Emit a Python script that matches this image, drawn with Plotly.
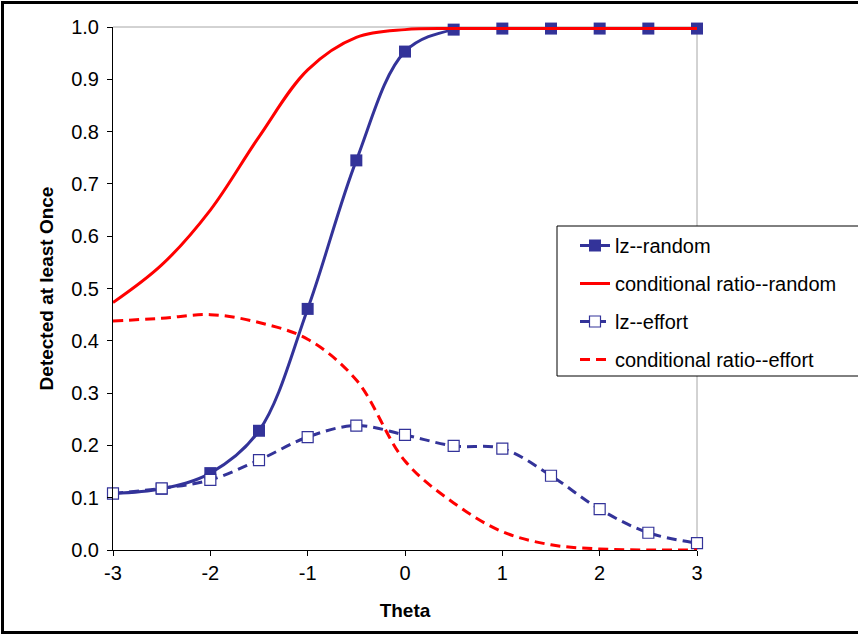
import plotly.graph_objects as go

theta = [-3, -2.5, -2, -1.5, -1, -0.5, 0, 0.5, 1, 1.5, 2, 2.5, 3]
lz_random = [0.108, 0.117, 0.147, 0.228, 0.461, 0.745, 0.953, 0.995, 0.997, 0.997, 0.997, 0.997, 0.997]
cr_random = [0.473, 0.545, 0.650, 0.790, 0.918, 0.980, 0.995, 0.997, 0.997, 0.997, 0.997, 0.997, 0.997]
lz_effort = [0.108, 0.118, 0.134, 0.172, 0.216, 0.238, 0.220, 0.199, 0.194, 0.142, 0.078, 0.033, 0.013]
cr_effort = [0.438, 0.443, 0.450, 0.435, 0.403, 0.325, 0.170, 0.090, 0.035, 0.010, 0.002, 0.000, 0.000]

y_ticks = [0.0, 0.1, 0.2, 0.3, 0.4, 0.5, 0.6, 0.7, 0.8, 0.9, 1.0]
x_ticks = [-3, -2, -1, 0, 1, 2, 3]

BLUE = "#333399"
RED = "#FF0000"
FONT = "Arial, Liberation Sans, sans-serif"
SM = 1.0

fig = go.Figure()
fig.add_trace(go.Scatter(
    x=theta, y=lz_random, name="lz--random", mode="lines+markers", cliponaxis=False,
    line=dict(color=BLUE, width=3, shape="spline", smoothing=SM),
    marker=dict(symbol="square", size=12, color=BLUE),
    legendgroup="a"))
fig.add_trace(go.Scatter(
    x=theta, y=cr_random, name="conditional ratio--random", mode="lines", cliponaxis=False,
    line=dict(color=RED, width=3, shape="spline", smoothing=SM),
    legendgroup="b"))
fig.add_trace(go.Scatter(
    x=theta, y=lz_effort, name="lz--effort", mode="lines+markers", cliponaxis=False,
    line=dict(color=BLUE, width=3, shape="spline", smoothing=SM, dash="10px,6px"),
    marker=dict(symbol="square", size=11, color="white", line=dict(color=BLUE, width=1.2)),
    legendgroup="c"))
fig.add_trace(go.Scatter(
    x=theta, y=cr_effort, name="conditional ratio--effort", mode="lines", cliponaxis=False,
    line=dict(color=RED, width=3, shape="spline", smoothing=SM, dash="10px,6px"),
    legendgroup="d"))

L, R, T, B = 113, 161, 27, 84
W, H = 858, 634
pw, ph = W - L - R, H - T - B

def px(x):
    return (x - L) / pw

def py(y):
    return (H - B - y) / ph

shapes = [
    dict(type="line", xref="paper", yref="paper", x0=0, x1=1, y0=1, y1=1,
         line=dict(color="#A6A6A6", width=1), layer="below"),
    dict(type="line", xref="paper", yref="paper", x0=1, x1=1, y0=0, y1=1,
         line=dict(color="#A6A6A6", width=1), layer="below"),
    dict(type="rect", xref="paper", yref="paper", x0=px(557), x1=px(920),
         y0=py(376), y1=py(226), line=dict(color="black", width=1), fillcolor="white"),
    dict(type="rect", xref="paper", yref="paper", x0=px(2.5), x1=px(920),
         y0=py(632.5), y1=py(2.5), line=dict(color="black", width=3), fillcolor="rgba(0,0,0,0)"),
]

fig.update_layout(
    width=W, height=H,
    margin=dict(l=L, r=R, t=T, b=B),
    paper_bgcolor="white", plot_bgcolor="white",
    font=dict(family=FONT, size=20, color="black"),
    showlegend=True,
    legend=dict(x=px(575), y=py(226), xanchor="left", yanchor="top",
                bgcolor="rgba(0,0,0,0)", borderwidth=0,
                traceorder="grouped", tracegroupgap=9,
                font=dict(family=FONT, size=20, color="black")),
    xaxis=dict(range=[-3, 3], tickvals=x_ticks, ticktext=[str(v) for v in x_ticks],
               showline=True, linecolor="black", linewidth=1,
               ticks="outside", ticklen=5, tickcolor="black",
               showgrid=False, zeroline=False, automargin=False,
               tickfont=dict(family=FONT, size=20),
               title=dict(text="<b>Theta</b>", font=dict(family=FONT, size=19), standoff=20)),
    yaxis=dict(range=[0, 1], tickvals=y_ticks, ticktext=[f"{v:.1f}" for v in y_ticks],
               showline=True, linecolor="black", linewidth=1,
               ticks="outside", ticklen=5, tickcolor="black",
               showgrid=False, zeroline=False, automargin=False,
               ticklabelstandoff=4,
               tickfont=dict(family=FONT, size=20),
               title=dict(text="<b>Detected at least Once</b>", font=dict(family=FONT, size=19), standoff=12)),
    shapes=shapes,
)

fig.write_html("out.html")
